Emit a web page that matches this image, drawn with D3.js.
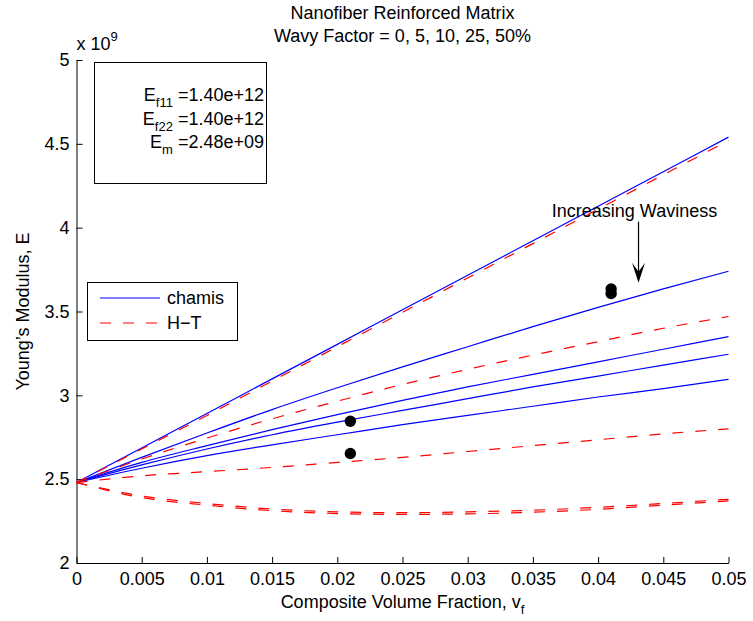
<!DOCTYPE html>
<html lang="en">
<head>
    <meta charset="UTF-8">
    <title>Nanofiber Reinforced Matrix</title>
    <script src="https://d3js.org/d3.v7.min.js"></script>
    <style>
        body {
            margin: 0;
            background: #fff;
        }

        svg text {
            font-family: "Liberation Sans", Arial, sans-serif;
            fill: #000;
        }

        .tick line,
        .domain {
            stroke: #000;
        }
    </style>
</head>
<body>
    <div id="chart"></div>

    <script>
        // volume fraction samples
        const vf = [0, 0.005, 0.01, 0.015, 0.02, 0.025, 0.03, 0.035, 0.04, 0.045, 0.05];

        // chamis model, E in units of 1e9, one array per wavy factor
        const chamis0 = [2.48, 2.686, 2.892, 3.098, 3.304, 3.51, 3.716, 3.922, 4.128, 4.334, 4.54];
        const chamis5 = [2.48, 2.63, 2.775, 2.915, 3.045, 3.17, 3.29, 3.41, 3.525, 3.635, 3.74];
        const chamis10 = [2.48, 2.60, 2.70, 2.795, 2.885, 2.97, 3.05, 3.125, 3.20, 3.275, 3.35];
        const chamis25 = [2.48, 2.585, 2.68, 2.765, 2.84, 2.91, 2.98, 3.05, 3.115, 3.18, 3.245];
        const chamis50 = [2.48, 2.565, 2.64, 2.705, 2.765, 2.825, 2.88, 2.935, 2.99, 3.04, 3.095];

        // Halpin-Tsai model
        const ht0 = [2.48, 2.68, 2.88, 3.085, 3.29, 3.495, 3.70, 3.905, 4.11, 4.315, 4.52];
        const ht5 = [2.48, 2.62, 2.745, 2.86, 2.965, 3.065, 3.155, 3.24, 3.32, 3.40, 3.47];
        const ht10 = [2.48, 2.52, 2.545, 2.57, 2.60, 2.63, 2.665, 2.70, 2.735, 2.77, 2.80];
        const ht25 = [2.48, 2.40, 2.355, 2.322, 2.305, 2.30, 2.305, 2.315, 2.332, 2.355, 2.38];
        const ht50 = [2.48, 2.39, 2.345, 2.312, 2.295, 2.29, 2.293, 2.303, 2.32, 2.345, 2.37];

        // measured points
        const dotVf = [0.021, 0.021, 0.041, 0.041];
        const dotE = [2.845, 2.653, 3.634, 3.607];

        const xTicks = [0, 0.005, 0.01, 0.015, 0.02, 0.025, 0.03, 0.035, 0.04, 0.045, 0.05];
        const yTicks = [2, 2.5, 3, 3.5, 4, 4.5, 5];

        const legendLabels = ['chamis', 'H\u2212T'];

        const width = 753, height = 621;
        const margin = { top: 60, right: 24.5, bottom: 58, left: 76.5 };

        const svg = d3.select('#chart').append('svg')
            .attr('width', width)
            .attr('height', height);

        svg.append('rect')
            .attr('width', width)
            .attr('height', height)
            .attr('fill', '#fff');

        const x = d3.scaleLinear()
            .domain([0, 0.05])
            .range([margin.left, width - margin.right]);

        const y = d3.scaleLinear()
            .domain([2, 5])
            .range([height - margin.bottom, margin.top]);

        const fontSize = 18;

        // axes, ticks pointing inward like matlab
        svg.append('g')
            .attr('transform', `translate(0,${height - margin.bottom})`)
            .call(d3.axisBottom(x)
                .tickValues(xTicks)
                .tickFormat(d => String(+d.toFixed(3)))
                .tickSizeInner(-6)
                .tickSizeOuter(0)
                .tickPadding(9))
            .call(g => g.selectAll('text')
                .style('font-size', fontSize + 'px')
                .attr('fill', '#000'));

        svg.append('g')
            .attr('transform', `translate(${margin.left},0)`)
            .call(d3.axisLeft(y)
                .tickValues(yTicks)
                .tickFormat(d => String(d))
                .tickSizeInner(-6)
                .tickSizeOuter(0)
                .tickPadding(7))
            .call(g => g.selectAll('text')
                .style('font-size', fontSize + 'px')
                .attr('fill', '#000'));

        // exponent label
        const expo = svg.append('text')
            .attr('x', margin.left)
            .attr('y', 50)
            .style('font-size', fontSize + 'px');
        expo.append('tspan').text('x 10');
        expo.append('tspan')
            .attr('dy', -9)
            .style('font-size', '13px')
            .text('9');

        // title
        const cx = (x.range()[0] + x.range()[1]) / 2;
        svg.append('text')
            .attr('x', cx)
            .attr('y', 19)
            .attr('text-anchor', 'middle')
            .style('font-size', fontSize + 'px')
            .text('Nanofiber Reinforced Matrix');
        svg.append('text')
            .attr('x', cx)
            .attr('y', 42)
            .attr('text-anchor', 'middle')
            .style('font-size', fontSize + 'px')
            .text('Wavy Factor = 0, 5, 10, 25, 50%');

        // axis labels
        const xl = svg.append('text')
            .attr('x', cx)
            .attr('y', 608)
            .attr('text-anchor', 'middle')
            .style('font-size', fontSize + 'px');
        xl.append('tspan').text('Composite Volume Fraction, v');
        xl.append('tspan')
            .attr('dy', 6)
            .style('font-size', '13px')
            .text('f');

        svg.append('text')
            .attr('transform', `translate(29,${(y.range()[0] + y.range()[1]) / 2}) rotate(-90)`)
            .attr('text-anchor', 'middle')
            .style('font-size', fontSize + 'px')
            .text('Young\u2019s Modulus, E');

        // curves
        const line = d3.line()
            .x((d, i) => x(vf[i]))
            .y(d => y(d))
            .curve(d3.curveMonotoneX);

        const chamisSeries = [chamis0, chamis5, chamis10, chamis25, chamis50];
        const htSeries = [ht0, ht5, ht10, ht25, ht50];

        svg.selectAll('.chamis')
            .data(chamisSeries)
            .enter().append('path')
            .attr('class', 'chamis')
            .attr('d', line)
            .attr('fill', 'none')
            .attr('stroke', '#0000ff')
            .attr('stroke-width', 1.2);

        svg.selectAll('.ht')
            .data(htSeries)
            .enter().append('path')
            .attr('class', 'ht')
            .attr('d', line)
            .attr('fill', 'none')
            .attr('stroke', '#ff0000')
            .attr('stroke-width', 1.2)
            .attr('stroke-dasharray', '11,12');

        svg.selectAll('.dot')
            .data(dotVf)
            .enter().append('circle')
            .attr('class', 'dot')
            .attr('cx', d => x(d))
            .attr('cy', (d, i) => y(dotE[i]))
            .attr('r', 5.7)
            .attr('fill', '#000');

        // annotation arrow
        const ax = x(0.0431), ay0 = y(4.036), ay1 = y(3.672);
        svg.append('line')
            .attr('x1', ax).attr('x2', ax)
            .attr('y1', ay0).attr('y2', ay1 - 8)
            .attr('stroke', '#000')
            .attr('stroke-width', 1.2);
        svg.append('path')
            .attr('d', `M${ax},${ay1} L${ax - 6.5},${ay1 - 20} L${ax},${ay1 - 11} L${ax + 6.5},${ay1 - 20} Z`)
            .attr('fill', '#000');
        svg.append('text')
            .attr('x', ax - 4)
            .attr('y', 217)
            .attr('text-anchor', 'middle')
            .style('font-size', fontSize + 'px')
            .text('Increasing Waviness');

        // material properties box
        svg.append('rect')
            .attr('x', 94.5).attr('y', 62.5)
            .attr('width', 172).attr('height', 121)
            .attr('fill', '#fff')
            .attr('stroke', '#000');

        const props = [
            { sub: 'f11', val: ' =1.40e+12' },
            { sub: 'f22', val: ' =1.40e+12' },
            { sub: 'm', val: ' =2.48e+09' }
        ];
        props.forEach((p, i) => {
            const t = svg.append('text')
                .attr('x', 264)
                .attr('y', 101 + i * 23.5)
                .attr('text-anchor', 'end')
                .style('font-size', fontSize + 'px');
            t.append('tspan').text('E');
            t.append('tspan')
                .attr('dy', 6)
                .style('font-size', '13px')
                .text(p.sub);
            t.append('tspan')
                .attr('dy', -6)
                .text(p.val);
        });

        // legend
        svg.append('rect')
            .attr('x', 87.5).attr('y', 282.5)
            .attr('width', 150).attr('height', 58)
            .attr('fill', '#fff')
            .attr('stroke', '#000');

        const legend = svg.selectAll('.legend')
            .data(legendLabels)
            .enter().append('g')
            .attr('class', 'legend')
            .attr('transform', (d, i) => `translate(0,${298 + i * 25})`);

        legend.append('line')
            .attr('x1', 100).attr('x2', 160)
            .attr('stroke', (d, i) => i === 0 ? '#0000ff' : '#ff0000')
            .attr('stroke-width', 1.2)
            .attr('stroke-dasharray', (d, i) => i === 0 ? null : '11,12');

        legend.append('text')
            .attr('x', 167)
            .attr('dy', '0.35em')
            .style('font-size', fontSize + 'px')
            .text(d => d);
    </script>
</body>
</html>
